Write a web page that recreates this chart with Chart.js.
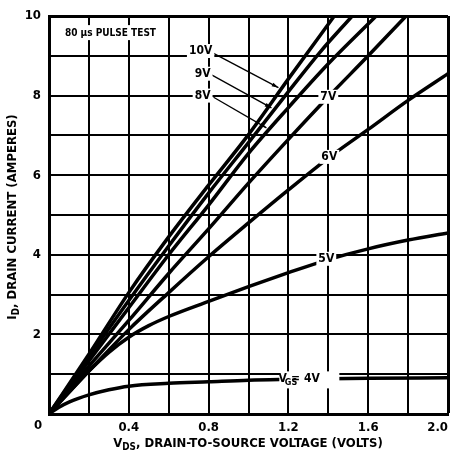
<!DOCTYPE html>
<html>
<head>
<meta charset="utf-8">
<script src="https://cdn.jsdelivr.net/npm/chart.js@4/dist/chart.umd.min.js"></script>
<style>
    html, body { margin: 0; padding: 0; background: #fff; }
    #wrap { width: 457px; height: 456px; }
</style>
</head>
<body>
<div id="wrap"><canvas id="curvasChart" width="457" height="456"></canvas></div>
<script>
// Curvas de salida ID vs VDS, una por cada VGS
const vgsLabels = ['10V', '9V', '8V', '7V', '6V', '5V', '4V'];

const vds10 = [0, 0.2, 0.4, 0.6, 0.8, 1.0, 1.2, 1.43];
const id10  = [0, 1.5, 3.05, 4.45, 5.75, 7.02, 8.42, 10];

const vds9 = [0, 0.2, 0.4, 0.6, 0.8, 1.0, 1.2, 1.36, 1.52];
const id9  = [0, 1.43, 2.85, 4.22, 5.55, 6.82, 8.1, 9.1, 10];

const vds8 = [0, 0.2, 0.4, 0.6, 0.8, 1.0, 1.2, 1.4, 1.64];
const id8  = [0, 1.33, 2.67, 4.0, 5.25, 6.55, 7.7, 8.8, 10];

const vds7 = [0, 0.2, 0.4, 0.6, 0.8, 1.0, 1.2, 1.4, 1.6, 1.79];
const id7  = [0, 1.2, 2.35, 3.53, 4.65, 5.8, 6.9, 7.97, 9.0, 10];

const vds6 = [0, 0.2, 0.4, 0.6, 0.8, 1.0, 1.2, 1.4, 1.6, 1.8, 2.0];
const id6  = [0, 1.08, 2.12, 3.05, 3.95, 4.8, 5.63, 6.43, 7.15, 7.88, 8.55];

const vds5 = [0, 0.1, 0.2, 0.3, 0.4, 0.5, 0.6, 0.8, 1.0, 1.2, 1.4, 1.6, 1.8, 2.0];
const id5  = [0, 0.55, 1.08, 1.55, 1.93, 2.22, 2.45, 2.83, 3.2, 3.55, 3.88, 4.15, 4.37, 4.55];

const vds4 = [0, 0.05, 0.1, 0.2, 0.3, 0.4, 0.6, 0.8, 1.0, 1.2, 1.6, 2.0];
const id4  = [0, 0.17, 0.3, 0.48, 0.61, 0.7, 0.77, 0.81, 0.85, 0.87, 0.9, 0.91];

// Etiquetas de las curvas (posicion en unidades del grafico)
const etiquetas = [
    { text: '10V', x: 0.76, y: 9.12 },
    { text: '9V',  x: 0.77, y: 8.55 },
    { text: '8V',  x: 0.77, y: 8.0 },
    { text: '7V',  x: 1.40, y: 7.97 },
    { text: '6V',  x: 1.405, y: 6.46 },
    { text: '5V',  x: 1.39, y: 3.9 }
];
const flechas = [
    { x1: 0.825, y1: 9.06, x2: 1.15,  y2: 8.2 },
    { x1: 0.815, y1: 8.52, x2: 1.115, y2: 7.69 },
    { x1: 0.825, y1: 7.96, x2: 1.09,  y2: 7.19 }
];

const FONT = "'Liberation Sans Narrow', 'DejaVu Sans Condensed', 'Roboto Condensed', sans-serif";

function toPoints(xs, ys) {
    return xs.map((x, i) => ({ x: x, y: ys[i] }));
}

const series = [
    toPoints(vds10, id10), toPoints(vds9, id9), toPoints(vds8, id8),
    toPoints(vds7, id7), toPoints(vds6, id6), toPoints(vds5, id5), toPoints(vds4, id4)
];

// Texto con subindice, centrado en x
function drawSubText(ctx, parts, cx, cy, size) {
    let total = 0;
    parts.forEach(p => {
        ctx.font = 'bold ' + (p.sub ? size * 0.75 : size) + 'px ' + FONT;
        total += ctx.measureText(p.t).width;
    });
    let x = cx - total / 2;
    parts.forEach(p => {
        ctx.font = 'bold ' + (p.sub ? size * 0.75 : size) + 'px ' + FONT;
        ctx.fillText(p.t, x, p.sub ? cy + size * 0.3 : cy);
        x += ctx.measureText(p.t).width;
    });
}

function labelBox(ctx, text, x, y, size) {
    ctx.font = 'bold ' + size + 'px ' + FONT;
    const w = ctx.measureText(text).width;
    ctx.fillStyle = '#fff';
    ctx.fillRect(x - w / 2 - 2, y - size / 2 - 1, w + 4, size + 2);
    ctx.fillStyle = '#000';
    ctx.textAlign = 'center';
    ctx.textBaseline = 'middle';
    ctx.fillText(text, x, y);
}

const anotaciones = {
    id: 'anotaciones',
    afterDatasetsDraw(chart) {
        const ctx = chart.ctx;
        const xs = chart.scales.x, ys = chart.scales.y;
        ctx.save();

        // flechas hacia las curvas 10V, 9V, 8V
        ctx.strokeStyle = '#000';
        ctx.fillStyle = '#000';
        ctx.lineWidth = 1.3;
        flechas.forEach(f => {
            const x1 = xs.getPixelForValue(f.x1), y1 = ys.getPixelForValue(f.y1);
            const x2 = xs.getPixelForValue(f.x2), y2 = ys.getPixelForValue(f.y2);
            ctx.beginPath();
            ctx.moveTo(x1, y1);
            ctx.lineTo(x2, y2);
            ctx.stroke();
            const a = Math.atan2(y2 - y1, x2 - x1);
            ctx.beginPath();
            ctx.moveTo(x2, y2);
            ctx.lineTo(x2 - 7 * Math.cos(a - 0.3), y2 - 7 * Math.sin(a - 0.3));
            ctx.lineTo(x2 - 7 * Math.cos(a + 0.3), y2 - 7 * Math.sin(a + 0.3));
            ctx.closePath();
            ctx.fill();
        });

        etiquetas.forEach(e => {
            labelBox(ctx, e.text, xs.getPixelForValue(e.x), ys.getPixelForValue(e.y), 12);
        });

        // etiqueta VGS = 4V
        const gx = xs.getPixelForValue(1.305), gy = ys.getPixelForValue(0.87);
        ctx.fillStyle = '#fff';
        ctx.fillRect(gx - 30, gy - 8, 60, 17);
        ctx.fillStyle = '#000';
        ctx.textBaseline = 'middle';
        drawSubText(ctx, [{ t: 'V' }, { t: 'GS', sub: true }, { t: ' = 4V' }], gx, gy, 12);

        // recuadro de la prueba
        const px = xs.getPixelForValue(0.08), py = ys.getPixelForValue(9.57);
        ctx.font = 'bold 10px ' + FONT;
        const txt = '80 \u00b5s PULSE TEST';
        const w = ctx.measureText(txt).width;
        ctx.fillStyle = '#fff';
        ctx.fillRect(px - 3, py - 8, w + 6, 15);
        ctx.fillStyle = '#000';
        ctx.textAlign = 'left';
        ctx.fillText(txt, px, py);
        ctx.restore();
    },
    afterDraw(chart) {
        const ctx = chart.ctx;
        const area = chart.chartArea;
        ctx.save();
        ctx.fillStyle = '#000';
        ctx.textBaseline = 'middle';

        // "0" compartido en la esquina
        ctx.font = 'bold 13px ' + FONT;
        ctx.textAlign = 'center';
        ctx.fillText('0', area.left - 11, area.bottom + 12);
        ctx.textAlign = 'left';

        drawSubText(ctx, [{ t: 'V' }, { t: 'DS', sub: true }, { t: ', DRAIN-TO-SOURCE VOLTAGE (VOLTS)' }],
            248, 444, 13);

        ctx.translate(13, (area.top + area.bottom) / 2 + 2);
        ctx.rotate(-Math.PI / 2);
        drawSubText(ctx, [{ t: 'I' }, { t: 'D', sub: true }, { t: ', DRAIN CURRENT (AMPERES)' }], 0, 0, 13);
        ctx.restore();
    }
};

const ctx = document.getElementById('curvasChart').getContext('2d');

new Chart(ctx, {
    type: 'line',
    data: {
        datasets: series.map((pts, i) => ({
            label: vgsLabels[i],
            data: pts,
            borderColor: '#000',
            borderWidth: 3.5,
            pointRadius: 0,
            fill: false,
            cubicInterpolationMode: 'monotone'
        }))
    },
    options: {
        responsive: false,
        animation: false,
        events: [],
        layout: { padding: { left: 0, right: 0, top: 16, bottom: 0 } },
        plugins: {
            legend: { display: false },
            tooltip: { enabled: false },
            title: { display: false }
        },
        scales: {
            x: {
                type: 'linear',
                min: 0,
                max: 2,
                afterFit: scale => {
                    scale.height = 42;
                    scale.paddingRight = 9; // deja el area hasta x = 448
                },
                grid: {
                    color: '#000',
                    lineWidth: c => (c.tick && Math.abs(c.tick.value - 2) < 1e-6) ? 3 : 2,
                    drawTicks: false
                },
                border: { display: true, color: '#000', width: 3 },
                ticks: {
                    stepSize: 0.2,
                    autoSkip: false,
                    maxRotation: 0,
                    align: 'inner',
                    padding: 6,
                    color: '#000',
                    font: { family: FONT, size: 13, weight: 'bold' },
                    callback: v => {
                        const r = Math.round(v * 10);
                        if (r === 0) return '';
                        return r % 4 === 0 ? (r / 10).toFixed(1) : '';
                    }
                }
            },
            y: {
                type: 'linear',
                min: 0,
                max: 10,
                afterFit: scale => { scale.width = 49; },
                grid: {
                    color: '#000',
                    lineWidth: c => (c.tick && c.tick.value === 10) ? 3 : 2,
                    drawTicks: false
                },
                border: { display: true, color: '#000', width: 3 },
                ticks: {
                    stepSize: 1,
                    autoSkip: false,
                    padding: 8,
                    color: '#000',
                    font: { family: FONT, size: 13, weight: 'bold' },
                    callback: v => (v !== 0 && v % 2 === 0) ? String(v) : ''
                }
            }
        }
    },
    plugins: [anotaciones]
});
</script>
</body>
</html>
